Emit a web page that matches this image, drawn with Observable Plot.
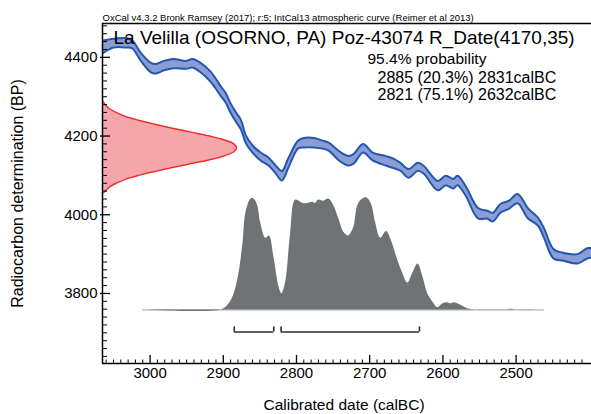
<!DOCTYPE html>
<html><head><meta charset="utf-8">
<script src="https://cdn.jsdelivr.net/npm/d3@7"></script>
<script src="https://cdn.jsdelivr.net/npm/@observablehq/plot@0.6"></script>
<style>
html,body{margin:0;padding:0;background:#fff;overflow:hidden}
svg{display:block}
</style></head><body><div id="chart"></div>
<script>
// ---- Calibration curve (IntCal13): year BC, BP, 1-sigma
const calYears = [3065,3050,3033,3024,3013,2999,2992,2981,2968,2951,2942,2931,2917,2903,2897,2890,2883,2876,2869,2860,2849,2838,2828,2820,2811,2798,2790,2776,2764,2756,2742,2729,2722,2709,2696,2678,2667,2658,2647,2634,2626,2607,2596,2586,2580,2569,2552,2539,2532,2521,2510,2498,2484,2470,2462,2449,2435,2416,2403,2397];
const calBP = [4426,4436,4437,4432,4402,4374,4371,4379,4384,4381,4385,4374,4350,4313,4298,4271,4249,4229,4191,4167,4148,4135,4114,4099,4132,4178,4183,4183,4178,4173,4150,4137,4142,4169,4148,4137,4130,4122,4105,4122,4114,4074,4087,4079,4087,4061,4004,4000,3994,4017,4025,4041,4004,3982,3954,3901,3893,3888,3902,3903];
const calSigma = [16,11,12,10,10,12,12,12,12,10,11,12,13,12,12,12,12,12,10,9,10,10,10,12,12,10,12,12,10,10,12,12,12,11,10,12,12,10,11,10,10,12,12,12,12,12,13,10,11,11,10,12,13,10,12,12,10,12,13,12];

// ---- Calibrated probability distribution (relative)
const probYears = [3010,2903,2894,2886,2879,2873,2869,2862,2858,2853,2849,2842,2837,2831,2824,2820,2815,2808,2801,2791,2785,2778,2774,2770,2763,2756,2749,2742,2735,2729,2722,2715,2705,2698,2692,2685,2677,2671,2662,2655,2648,2641,2634,2627,2621,2613,2607,2600,2594,2589,2585,2576,2566,2555,2514,2507,2500,2461];
const probValues = [0,0,0.04,0.13,0.31,0.60,0.87,0.99,0.99,0.93,0.78,0.64,0.66,0.48,0.21,0.145,0.24,0.68,0.98,0.95,0.95,0.96,0.95,0.98,0.97,0.99,0.93,0.81,0.69,0.66,0.73,0.95,1.0,0.95,0.78,0.64,0.70,0.63,0.45,0.33,0.24,0.33,0.41,0.29,0.15,0.065,0.02,0.055,0.065,0.055,0.065,0.045,0.01,0,0,0.006,0,0];

// ---- Radiocarbon determination R_Date(4170,35), relative density
const rdateBP = [4055,4060,4070,4080,4090,4100,4110,4120,4130,4140,4150,4160,4170,4180,4190,4200,4210,4220,4230,4240,4250,4260,4270,4280,4290];
const rdateValues = [0,0.02,0.05,0.10,0.17,0.27,0.39,0.52,0.66,0.80,0.91,0.98,1.00,0.98,0.91,0.80,0.66,0.52,0.39,0.27,0.17,0.10,0.05,0.02,0];

// ---- 95.4% ranges
const rangeFrom = [2885, 2821];
const rangeTo = [2831, 2632];

// ---- Ticks and text
const xTicks = [3000, 2900, 2800, 2700, 2600, 2500];
const yTicks = [3800, 4000, 4200, 4400];
const headerText = ["OxCal v4.3.2 Bronk Ramsey (2017); r:5; IntCal13 atmospheric curve (Reimer et al 2013)"];
const titleText = ["La Velilla (OSORNO, PA) Poz-43074 R_Date(4170,35)"];
const probText = ["95.4% probability"];
const rangeText = ["2885 (20.3%) 2831calBC", "2821 (75.1%) 2632calBC"];
const xLabel = ["Calibrated date (calBC)"];
const yLabel = ["Radiocarbon determination (BP)"];

// ---- layout
const W = 591, H = 414, mL = 102, mR = 0, mT = 23, mB = 51;
const fw = W - mL - mR, fh = H - mT - mB;
const xDomain = [3065, 2397];
const yDomain = [3622, 4486];
const probBase = 3758, probScale = 285;   // baseline and height of distribution (BP units)
const rdateScale = 183;                   // horizontal extent of R_Date curve (years)
const bracketBP = 3702, bracketTick = 13;

const minorX = d3.range(2400, 3070, 10).filter(d => d % 100 !== 0);
const minorY = d3.range(3640, 4486, 20).filter(d => d % 200 !== 0);

const font = "'Liberation Sans', Arial, Helvetica, sans-serif";
const blueFill = "#8a9dd5", blueStroke = "#2357ad";
const redFill = "#f5a6aa", redStroke = "#ec2f2c";
const grey = "#6f7376";

const chart = Plot.plot({
  width: W, height: H,
  marginLeft: mL, marginRight: mR, marginTop: mT, marginBottom: mB,
  style: {fontFamily: font, background: "#fff", color: "#000"},
  x: {domain: xDomain, axis: null},
  y: {domain: yDomain, axis: null},
  marks: [
    // R_Date distribution
    Plot.areaX(rdateBP, {y: d => d, x1: xDomain[0], x2: (d, i) => xDomain[0] - rdateValues[i] * rdateScale, fill: redFill, curve: "catmull-rom"}),
    Plot.lineX(rdateBP, {y: d => d, x: (d, i) => xDomain[0] - rdateValues[i] * rdateScale, stroke: redStroke, strokeWidth: 1.5, curve: "catmull-rom"}),
    // calibration curve band
    Plot.areaY(calYears, {x: d => d, y1: (d, i) => calBP[i] - calSigma[i], y2: (d, i) => calBP[i] + calSigma[i], fill: blueFill, curve: "catmull-rom", clip: true}),
    Plot.lineY(calYears, {x: d => d, y: (d, i) => calBP[i] + calSigma[i], stroke: blueStroke, strokeWidth: 2, curve: "catmull-rom", clip: true}),
    Plot.lineY(calYears, {x: d => d, y: (d, i) => calBP[i] - calSigma[i], stroke: blueStroke, strokeWidth: 2, curve: "catmull-rom", clip: true}),
    // calibrated distribution
    Plot.ruleY([probBase], {x1: probYears[0], x2: probYears[probYears.length - 1], stroke: "#a0a2a4", strokeWidth: 1}),
    Plot.areaY(probYears, {x: d => d, y1: probBase, y2: (d, i) => probBase + probValues[i] * probScale, fill: grey, curve: "catmull-rom"}),
    // range brackets
    Plot.ruleY(rangeFrom, {y: bracketBP, x1: d => d, x2: (d, i) => rangeTo[i], stroke: "#2b2b2b", strokeWidth: 1.6}),
    Plot.ruleX([...rangeFrom, ...rangeTo], {x: d => d, y1: bracketBP, y2: bracketBP + bracketTick, stroke: "#2b2b2b", strokeWidth: 1.6}),
    // frame lines
    Plot.ruleX([xDomain[0]], {stroke: "#000", strokeWidth: 1.5}),
    Plot.ruleY([yDomain[0]], {stroke: "#000", strokeWidth: 1.5}),
    Plot.ruleY([yDomain[1]], {stroke: "#000", strokeWidth: 1.5}),
    // ticks
    Plot.tickX(minorX, {x: d => d, insetTop: fh - 3.5, stroke: "#000", strokeWidth: 1}),
    Plot.tickX(xTicks, {x: d => d, insetTop: fh - 8, insetBottom: -1, stroke: "#000", strokeWidth: 1.3}),
    Plot.tickY(minorY, {y: d => d, insetRight: fw - 5, stroke: "#000", strokeWidth: 1}),
    Plot.tickY(yTicks, {y: d => d, insetRight: fw - 8, insetLeft: -2, stroke: "#000", strokeWidth: 1.3}),
    // tick labels
    Plot.text(xTicks, {x: d => d, frameAnchor: "bottom", text: d => String(d), dy: 10, lineAnchor: "middle", fontSize: 15, fill: "#000"}),
    Plot.text(yTicks, {y: d => d, frameAnchor: "left", text: d => String(d), dx: -5, textAnchor: "end", lineAnchor: "middle", fontSize: 15, fill: "#000"}),
    // axis titles
    Plot.text(xLabel, {frameAnchor: "bottom", text: d => d, dx: -3, dy: 41.5, textAnchor: "middle", lineAnchor: "middle", fontSize: 15.5, fill: "#000"}),
    Plot.text(yLabel, {frameAnchor: "left", text: d => d, dx: -85, rotate: -90, textAnchor: "middle", lineAnchor: "middle", fontSize: 16, fill: "#000"}),
    // annotations
    Plot.text(headerText, {frameAnchor: "top-left", text: d => d, dx: 0, dy: -2.5, textAnchor: "start", lineAnchor: "bottom", fontSize: 9.5, fill: "#000"}),
    Plot.text(titleText, {frameAnchor: "top-left", text: d => d, dx: 11, dy: 20.3, textAnchor: "start", lineAnchor: "bottom", fontSize: 19, fill: "#000"}),
    Plot.text(probText, {frameAnchor: "top-left", text: d => d, dx: 265, dy: 40.5, textAnchor: "start", lineAnchor: "bottom", fontSize: 15.5, fill: "#000"}),
    Plot.text([rangeText[0]], {frameAnchor: "top-left", text: d => d, dx: 275, dy: 59.7, textAnchor: "start", lineAnchor: "bottom", fontSize: 16, fill: "#000"}),
    Plot.text([rangeText[1]], {frameAnchor: "top-left", text: d => d, dx: 275, dy: 76.8, textAnchor: "start", lineAnchor: "bottom", fontSize: 16, fill: "#000"})
  ]
});
document.getElementById("chart").appendChild(chart);
</script>
</body></html>
